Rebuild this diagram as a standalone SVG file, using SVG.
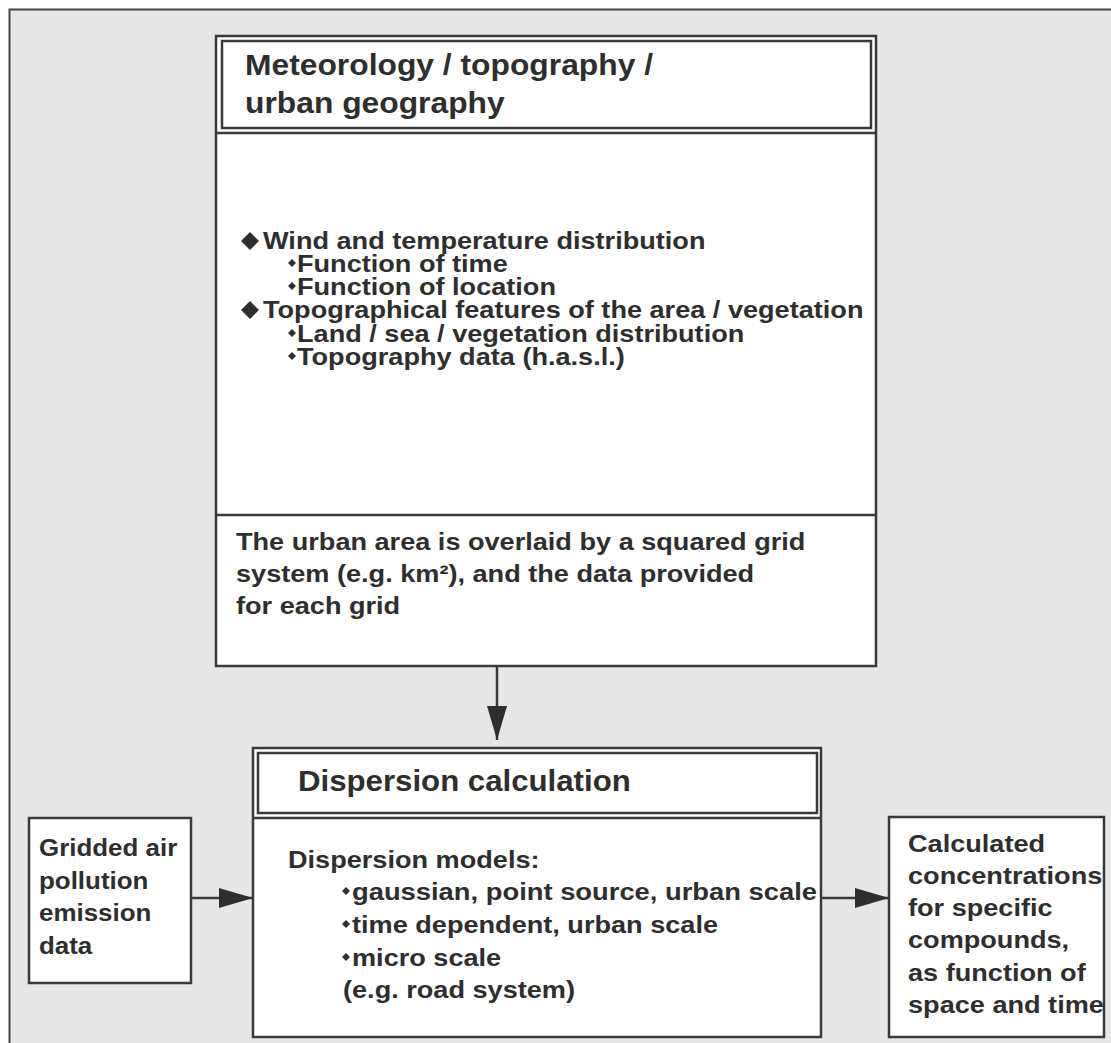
<svg xmlns="http://www.w3.org/2000/svg" width="1111" height="1043" viewBox="0 0 1111 1043">
<defs>
<style>
.t{font-family:"Liberation Sans",Arial,Helvetica,sans-serif;font-weight:bold;fill:#2e2e2e}
.h{font-size:30px}
.b{font-size:24px}
.box{fill:#fff;stroke:#3a3a3a;stroke-width:2.5}
.ln{stroke:#3a3a3a;stroke-width:2.5;fill:none}
.con{stroke:#3a3a3a;stroke-width:2.5;fill:none}
.dia{fill:#2e2e2e}
</style>
<marker id="ah" viewBox="0 0 34 20" refX="34" refY="10" markerWidth="34" markerHeight="20" markerUnits="userSpaceOnUse" orient="auto">
<path d="M0,0 L34,10 L0,20 z" fill="#2e2e2e"/>
</marker>
<polygon id="big" points="0,-9 9,0 0,9 -9,0" class="dia"/>
<polygon id="sm" points="0,-4 4,0 0,4 -4,0" class="dia"/>
</defs>
<rect x="0" y="0" width="1111" height="1043" fill="#fff"/>
<rect x="9.5" y="9.5" width="1120" height="1050" fill="#e7e7e7" stroke="#444" stroke-width="2"/>

<g id="meteorology">
<rect class="box" x="216" y="36" width="660" height="630"/>
<rect class="box" x="222" y="41" width="649" height="87"/>
<line class="ln" x1="216" y1="133" x2="876" y2="133"/>
<line class="ln" x1="216" y1="515" x2="876" y2="515"/>
<text class="t h" transform="translate(245,75) scale(1.06,1)">Meteorology / topography /</text>
<text class="t h" transform="translate(245,113) scale(1.06,1)">urban geography</text>
<use href="#big" x="250" y="241"/>
<text class="t b" transform="translate(263,249) scale(1.13,1)">Wind and temperature distribution</text>
<use href="#sm" x="292" y="263"/>
<text class="t b" transform="translate(297,272) scale(1.13,1)">Function of time</text>
<use href="#sm" x="292" y="286"/>
<text class="t b" transform="translate(297,295) scale(1.13,1)">Function of location</text>
<use href="#big" x="250" y="310"/>
<text class="t b" transform="translate(263,318) scale(1.13,1)">Topographical features of the area / vegetation</text>
<use href="#sm" x="292" y="333"/>
<text class="t b" transform="translate(297,342) scale(1.13,1)">Land / sea / vegetation distribution</text>
<use href="#sm" x="292" y="356"/>
<text class="t b" transform="translate(297,365) scale(1.13,1)">Topography data (h.a.s.l.)</text>
<text class="t b" transform="translate(236,550) scale(1.13,1)">The urban area is overlaid by a squared grid</text>
<text class="t b" transform="translate(236,582) scale(1.13,1)">system (e.g. km²), and the data provided</text>
<text class="t b" transform="translate(236,614) scale(1.13,1)">for each grid</text>
</g>

<g id="dispersion">
<rect class="box" x="253" y="748" width="568" height="289"/>
<rect class="box" x="258" y="753" width="559" height="60"/>
<line class="ln" x1="253" y1="818" x2="821" y2="818"/>
<text class="t h" transform="translate(298,791) scale(1.04,1)">Dispersion calculation</text>
<text class="t b" transform="translate(288,868) scale(1.13,1)">Dispersion models:</text>
<use href="#sm" x="346" y="891"/>
<text class="t b" transform="translate(352,900) scale(1.14,1)">gaussian, point source, urban scale</text>
<use href="#sm" x="346" y="924"/>
<text class="t b" transform="translate(352,933) scale(1.13,1)">time dependent, urban scale</text>
<use href="#sm" x="346" y="957"/>
<text class="t b" transform="translate(352,966) scale(1.13,1)">micro scale</text>
<text class="t b" transform="translate(343,998) scale(1.13,1)">(e.g. road system)</text>
</g>

<g id="emission">
<rect class="box" x="29" y="818" width="162" height="165"/>
<text class="t b" transform="translate(39,856) scale(1.08,1)">Gridded air</text>
<text class="t b" transform="translate(39,889) scale(1.08,1)">pollution</text>
<text class="t b" transform="translate(39,921) scale(1.08,1)">emission</text>
<text class="t b" transform="translate(39,954) scale(1.08,1)">data</text>
</g>

<g id="result">
<rect class="box" x="889" y="817" width="215" height="220"/>
<text class="t b" transform="translate(908,852) scale(1.13,1)">Calculated</text>
<text class="t b" transform="translate(908,884) scale(1.13,1)">concentrations</text>
<text class="t b" transform="translate(908,916) scale(1.13,1)">for specific</text>
<text class="t b" transform="translate(908,948) scale(1.13,1)">compounds,</text>
<text class="t b" transform="translate(908,981) scale(1.13,1)">as function of</text>
<text class="t b" transform="translate(908,1013) scale(1.13,1)">space and time</text>
</g>

<g id="connectors">
<line class="con" x1="497" y1="667" x2="497" y2="740" marker-end="url(#ah)"/>
<line class="con" x1="191" y1="898" x2="253" y2="898" marker-end="url(#ah)"/>
<line class="con" x1="821" y1="898" x2="889" y2="898" marker-end="url(#ah)"/>
</g>
</svg>
